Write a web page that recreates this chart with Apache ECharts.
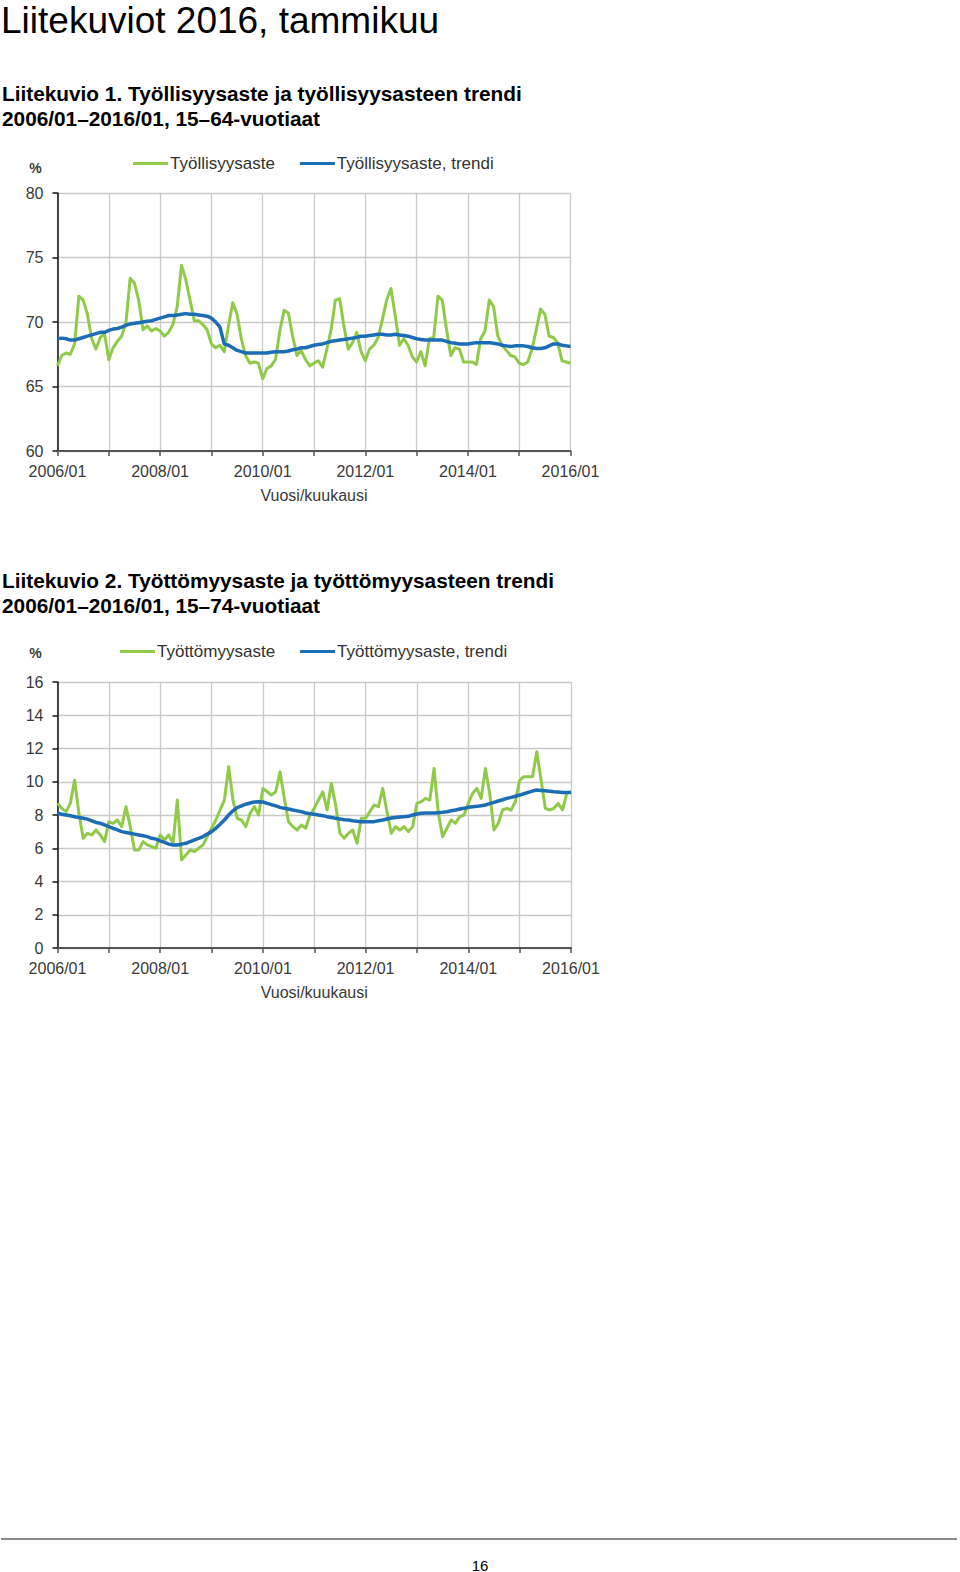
<!DOCTYPE html>
<html>
<head>
<meta charset="utf-8">
<script src="https://cdn.jsdelivr.net/npm/echarts@6/dist/echarts.min.js"></script>
<style>
html,body{margin:0;padding:0;background:#fff;}
#chart{width:960px;height:1572px;}
</style>
</head>
<body>
<div id="chart"></div>
<script>
// ---- Data ----
const months = [];
for (let y = 2006; y <= 2016; y++) {
  for (let m = 1; m <= 12; m++) {
    if (y === 2016 && m > 1) break;
    months.push(y + '/' + (m < 10 ? '0' + m : m));
  }
}

// Liitekuvio 1: Työllisyysaste (15–64), %
const employmentRate = [
  66.6,67.4,67.6,67.5,68.3,72.0,71.7,70.6,68.7,67.9,68.8,69.1,
  67.1,68.0,68.5,68.9,69.9,73.4,73.0,71.7,69.4,69.7,69.3,69.5,
  69.3,68.9,69.2,69.8,71.2,74.4,73.3,71.7,70.1,70.1,69.8,69.4,
  68.3,68.0,68.2,67.7,69.7,71.5,70.6,68.7,67.4,66.8,66.9,66.8,
  65.6,66.4,66.6,67.1,69.3,70.9,70.7,68.9,67.4,67.8,67.1,66.6,
  66.8,67.0,66.5,67.9,69.4,71.7,71.8,69.7,67.9,68.4,69.2,67.7,
  67.0,67.9,68.2,68.8,70.2,71.7,72.6,70.5,68.2,68.7,68.2,67.3,
  66.9,67.7,66.6,68.7,68.8,72.0,71.7,69.4,67.4,68.0,67.9,66.9,
  66.9,66.9,66.7,68.7,69.3,71.7,71.2,68.9,68.2,67.8,67.4,67.3,
  66.8,66.7,66.9,67.9,69.4,71.0,70.6,68.9,68.8,68.4,67.0,66.9,
  66.8
];
const employmentTrend = [
  68.7,68.75,68.7,68.6,68.6,68.7,68.8,68.9,69.0,69.1,69.2,69.2,
  69.35,69.45,69.5,69.6,69.75,69.85,69.9,69.95,70.0,70.05,70.1,70.2,
  70.3,70.4,70.5,70.5,70.55,70.6,70.65,70.6,70.6,70.55,70.5,70.45,
  70.3,70.0,69.6,68.3,68.2,68.0,67.8,67.7,67.6,67.6,67.6,67.6,
  67.6,67.6,67.65,67.7,67.7,67.7,67.75,67.85,67.9,68.0,68.0,68.1,
  68.2,68.25,68.3,68.4,68.5,68.55,68.6,68.65,68.7,68.75,68.8,68.9,
  68.9,68.95,69.0,69.05,69.05,69.0,69.0,69.05,69.0,68.95,68.9,68.8,
  68.7,68.65,68.6,68.6,68.6,68.6,68.6,68.5,68.4,68.35,68.3,68.3,
  68.3,68.35,68.4,68.4,68.4,68.4,68.35,68.3,68.2,68.15,68.1,68.15,
  68.15,68.15,68.1,68.0,67.95,67.95,68.0,68.15,68.3,68.3,68.2,68.15,
  68.1
];

// Liitekuvio 2: Työttömyysaste (15–74), %
const unemploymentRate = [
  8.7,8.4,8.2,8.7,10.1,8.1,6.6,6.9,6.8,7.1,6.8,6.4,
  7.6,7.5,7.7,7.3,8.5,7.3,5.9,5.9,6.4,6.2,6.1,6.0,
  6.8,6.5,6.8,6.3,8.9,5.3,5.6,5.9,5.8,6.0,6.2,6.7,
  7.2,7.7,8.3,8.9,10.9,8.9,7.8,7.7,7.3,8.1,8.5,8.0,
  9.6,9.4,9.2,9.4,10.6,9.0,7.6,7.3,7.1,7.4,7.2,8.0,
  8.4,8.9,9.4,8.3,9.9,8.6,6.9,6.6,6.9,7.1,6.3,7.8,
  7.8,8.2,8.6,8.5,9.6,8.2,6.9,7.3,7.1,7.3,7.0,7.3,
  8.7,8.8,9.0,8.9,10.8,8.1,6.7,7.2,7.7,7.5,7.9,8.0,
  8.7,9.3,9.6,9.0,10.8,9.3,7.1,7.5,8.3,8.4,8.3,8.8,
  10.1,10.3,10.3,10.3,11.8,10.1,8.4,8.3,8.4,8.7,8.3,9.3,
  9.4
];
const unemploymentTrend = [
  8.1,8.05,8.0,7.95,7.9,7.85,7.8,7.75,7.65,7.55,7.5,7.4,
  7.3,7.2,7.1,7.0,6.95,6.9,6.85,6.8,6.75,6.7,6.6,6.55,
  6.45,6.35,6.25,6.2,6.2,6.25,6.3,6.4,6.5,6.6,6.7,6.85,
  7.0,7.2,7.45,7.7,8.0,8.25,8.45,8.55,8.65,8.72,8.78,8.8,
  8.78,8.7,8.62,8.55,8.46,8.4,8.36,8.3,8.25,8.2,8.12,8.08,
  8.05,8.0,7.96,7.9,7.85,7.8,7.76,7.72,7.7,7.65,7.62,7.6,
  7.6,7.6,7.6,7.65,7.7,7.76,7.82,7.85,7.88,7.9,7.92,8.0,
  8.06,8.1,8.12,8.12,8.12,8.14,8.16,8.2,8.26,8.3,8.36,8.4,
  8.46,8.5,8.52,8.56,8.6,8.68,8.76,8.84,8.92,9.0,9.06,9.13,
  9.2,9.28,9.36,9.44,9.5,9.48,9.46,9.43,9.4,9.38,9.36,9.36,
  9.36
];

const seriesNames1 = ['Työllisyysaste', 'Työllisyysaste, trendi'];
const seriesNames2 = ['Työttömyysaste', 'Työttömyysaste, trendi'];
const yTicks1 = {min: 60, max: 80, interval: 5};
const yTicks2 = {min: 0, max: 16, interval: 2};

// ---- Styles ----
const FONT = '"Liberation Sans", Arial, sans-serif';
const GREEN = '#8fcb48';
const BLUE = '#1b6db6';
const GRID = '#c9c9c9';
const LABEL = '#3a3a3a';

function xAxisCfg(gi) {
  return {
    type: 'category', gridIndex: gi, data: months, boundaryGap: false,
    name: 'Vuosi/kuukausi', nameLocation: 'middle', nameGap: 36,
    nameTextStyle: {fontFamily: FONT, fontSize: 16, color: LABEL},
    axisLine: {show: true, lineStyle: {color: '#555', width: 2}},
    axisTick: {show: true, length: 5, interval: (i) => i % 12 === 0, lineStyle: {color: '#555', width: 1.5}},
    axisLabel: {interval: (i) => i % 24 === 0, margin: 12, fontFamily: FONT, fontSize: 16, color: LABEL},
    splitLine: {show: true, interval: (i) => i % 12 === 0, lineStyle: {color: GRID, width: 1.3}}
  };
}
function yAxisCfg(gi, t, gap) {
  return {
    type: 'value', gridIndex: gi, min: t.min, max: t.max, interval: t.interval,
    name: '%', nameLocation: 'end', nameGap: gap,
    nameTextStyle: {fontFamily: FONT, fontSize: 14, fontWeight: 'bold', color: LABEL, padding: [0, 44, 0, 0]},
    axisLine: {show: true, lineStyle: {color: '#111', width: 1.5}},
    axisTick: {show: true, length: 5, lineStyle: {color: '#111', width: 1.5}},
    axisLabel: {margin: 14, fontFamily: FONT, fontSize: 16, color: LABEL},
    splitLine: {show: true, lineStyle: {color: GRID, width: 1.3}}
  };
}
function lineSeries(name, data, gi, color, width) {
  return {
    name: name, type: 'line', xAxisIndex: gi, yAxisIndex: gi, data: data,
    symbol: 'none', showSymbol: false, smooth: false, animation: false,
    lineStyle: {color: color, width: width, join: 'round'}, itemStyle: {color: color},
    emphasis: {disabled: true}
  };
}
function legendCfg(names, left, top) {
  return {
    data: names, left: left, top: top, icon: 'rect', itemWidth: 35, itemHeight: 3,
    itemGap: 25, padding: 0, selectedMode: false,
    textStyle: {fontFamily: FONT, fontSize: 17, color: '#333', padding: [0, 0, 0, -3]}
  };
}
function txt(x, y, s, size, weight, align) {
  return {type: 'text', x: x, y: y, silent: true,
    style: {text: s, fontFamily: FONT, fontSize: size, lineHeight: size, fontWeight: weight || 'normal',
      fill: '#000', align: align || 'left', verticalAlign: 'middle'}};
}

const chart = echarts.init(document.getElementById('chart'), null, {renderer: 'svg'});
chart.setOption({
  backgroundColor: '#fff',
  animation: false,
  grid: [
    {left: 57.5, top: 193, width: 513, height: 258},
    {left: 57.5, top: 682, width: 513.5, height: 266}
  ],
  legend: [
    legendCfg(seriesNames1, 133, 155),
    legendCfg(seriesNames2, 120, 643)
  ],
  xAxis: [xAxisCfg(0), xAxisCfg(1)],
  yAxis: [yAxisCfg(0, yTicks1, 18), yAxisCfg(1, yTicks2, 22)],
  series: [
    lineSeries(seriesNames1[0], employmentRate, 0, GREEN, 3),
    lineSeries(seriesNames1[1], employmentTrend, 0, BLUE, 3.5),
    lineSeries(seriesNames2[0], unemploymentRate, 1, GREEN, 3),
    lineSeries(seriesNames2[1], unemploymentTrend, 1, BLUE, 3.5)
  ],
  graphic: [
    txt(1, 20, 'Liitekuviot 2016, tammikuu', 37),
    txt(2, 93, 'Liitekuvio 1. Työllisyysaste ja työllisyysasteen trendi', 20.8, 'bold'),
    txt(2, 118, '2006/01–2016/01, 15–64-vuotiaat', 20.8, 'bold'),
    txt(2, 580, 'Liitekuvio 2. Työttömyysaste ja työttömyysasteen trendi', 20.8, 'bold'),
    txt(2, 605, '2006/01–2016/01, 15–74-vuotiaat', 20.8, 'bold'),
    {type: 'line', silent: true, shape: {x1: 1, y1: 1539, x2: 957, y2: 1539},
      style: {stroke: '#8a8a8a', lineWidth: 2}},
    txt(480, 1565, '16', 15, 'normal', 'center')
  ]
});
</script>
</body>
</html>
